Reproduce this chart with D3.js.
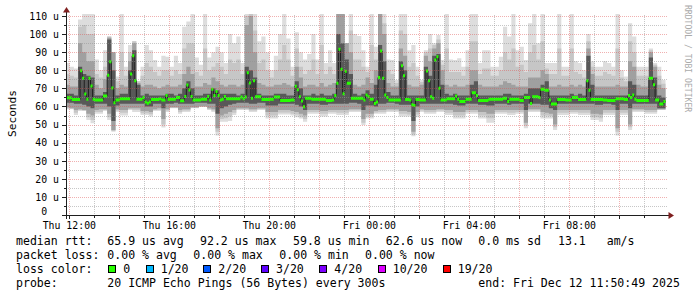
<!DOCTYPE html>
<html><head><meta charset="utf-8">
<script src="https://cdn.jsdelivr.net/npm/d3@7"></script>
<style>
html,body{margin:0;padding:0;background:#fff;}
svg{display:block;}
text{font-family:"DejaVu Sans Mono",monospace;fill:#000;}
</style></head><body>
<svg id="c" width="697" height="297"></svg>
<script>
// ---------- data (microseconds) ----------
// median rtt per 5-minute step (288 steps, Thu 11:50:49 -> Fri 11:50:49)
const medianRtt = [64.8,64.8,64.8,63.9,63.9,63.9,63.9,79.7,75.6,66.9,
64.0,75.6,71.3,64.0,63.6,63.6,63.6,63.6,65.8,65.8,
77.2,84.7,70.2,62.0,63.6,63.6,64.2,64.2,64.2,64.2,
64.2,78.0,88.0,74.2,64.0,64.0,64.0,65.0,62.5,61.8,
62.5,63.8,63.8,63.8,63.8,64.2,63.6,63.6,66.0,64.0,
64.0,64.0,64.0,65.0,65.0,63.2,63.2,65.5,71.9,69.1,
65.5,63.6,63.6,63.6,63.6,64.0,64.0,64.0,65.5,63.6,
69.5,66.0,68.2,66.0,63.6,64.0,65.5,64.3,64.3,64.3,
64.3,64.3,64.3,64.3,65.2,64.3,65.2,78.7,73.0,64.5,
74.2,65.4,65.4,65.4,63.8,63.8,63.8,63.8,64.0,64.0,
65.2,65.2,65.2,63.3,63.3,63.3,63.3,63.3,63.6,63.6,
71.1,69.3,65.4,63.0,59.8,64.5,64.5,64.5,64.0,64.0,
64.0,64.0,64.0,64.0,64.0,63.3,63.3,63.3,63.6,66.0,
72.8,91.6,80.5,67.0,79.4,72.8,72.8,64.5,64.5,64.5,
64.5,64.5,64.5,63.6,66.3,65.4,64.0,64.0,61.7,62.5,
76.0,90.6,75.6,66.3,65.0,63.6,63.6,63.6,63.6,63.6,
63.6,82.5,77.0,63.8,63.8,63.6,61.0,60.5,63.8,63.8,
63.6,63.6,63.6,79.6,74.2,65.4,64.5,85.7,87.5,70.0,
63.6,63.6,63.6,64.3,64.3,64.3,64.3,65.8,64.0,62.7,
62.7,62.7,64.0,64.0,64.0,67.6,67.6,66.0,63.3,63.3,
63.3,63.3,63.3,64.0,64.0,64.0,64.0,64.0,64.0,64.0,
64.5,64.5,62.7,64.0,64.0,64.0,64.0,64.0,63.3,63.3,
65.0,65.0,65.0,61.7,65.4,65.4,65.4,65.0,69.5,69.5,
69.0,69.0,63.6,61.4,61.4,61.4,63.8,63.8,63.8,63.8,
63.6,63.6,63.6,65.0,65.0,65.0,63.8,63.8,63.8,63.8,
74.2,69.0,63.8,63.8,63.8,63.8,63.8,63.8,63.6,63.6,
63.3,63.3,63.3,63.3,64.3,64.3,64.3,64.3,63.8,63.8,
66.0,65.0,66.3,64.0,63.3,63.3,63.3,63.3,63.3,63.3,
75.6,75.6,72.0,63.6,63.6,61.4,61.4,62.7];

// smoke per 10-minute column (144 columns), from outermost to innermost pings
const pingMax = [84,82,81,108,112,112,112,86,80,91,
98.6,90,76.5,112,82,94,96,74,82,94,
91,85.7,82,88,87.5,82,88,84,104,107,
112,87,83,112,87,90,93,90,84,100,
95,98.6,84,112,112,112,96,98.6,90,80,
88,100,112,97.6,82,101,90,86,89,100,
86,112,84,91,84,112,112,95,112,100,
99,91,82,112,93,112,112,86,85.7,74.6,
112,112,91,94,82,74.6,91,100,95,99.5,
85.7,112,86,85.7,86.6,82,91,112,112,84,
91,91,82,82,87.5,104,98.6,112,91,93,
85.7,106,112,95,112,84,84,84,112,82,
82,112,85,84,80,100,85,82,82,85,
84,82,112,80,76.5,106,98.6,82,82,82,
92,84,82,74.6];
const pingMin = [58.5,58.5,55.3,57.5,57.5,52.5,50.7,56,56,57.5,
52.5,46,57,55,55,58,57,57,55.3,55.3,
54.5,57.5,57.5,48.3,57,59,59,56,57,57,
59,59,60,60,58,57,44,51.6,51.6,52,
55.3,58,58,58,57,57,58,58,53.4,53.4,
53.4,55.5,55.5,55.5,55,54,53.4,51.6,56,56,
56,54.5,54.5,56,56,55.3,55.3,55.3,57,57,
57,49.7,53.4,53.4,56,56,56,57,57,57,
54.5,54.5,54.5,43.5,54,57,56,56,56,57,
57,55.3,55.3,53.4,53.4,53.4,56,56,56,53.4,
53.4,51,51,56,56,56,55.3,55.3,56,56,
47.9,57,57,57,53.4,53.4,53.4,47,55.3,55.3,
55.3,56,56,55.3,55.3,55.3,52.5,52.5,51.6,55.3,
55.3,55.3,44,55.3,55.3,47,57,57,57,56,
56,56,58,58];
const outerHi = [78,77,76,104,105,100,100,78,76,82,
98.6,90,74,90,77,90,96,74,77,84,
82,79,77,80,80,77,80,78,92,95,
95,79,77,92,80,82,84,82,78,86,
84,86,78,110,112,102,84,86,80,76,
80,86,94,86,77,92,82,78,80,86,
78,94,78,82,78,112,112,95,102,86,
86,82,79,94,86,112,106,80,78,73,
102,100,82,84,77,73.5,90,92,94,97,
83,92,79,79,79,77,82,96,96,78,
81,81,77,77,80,90,86,92,82,83,
79,90,94,86,96,81,78,78,92,77,
77,92,79,78,76,96,82,77,77,79,
78,77,92,76,74,96,90,77,77,77,
91,83,77,72.5];
const outerLo = [59,58.7,56.5,58,57.7,54,52.5,57,57,58,
54,46.5,57.7,56.5,56.5,58.5,58,58,56.3,56.3,
55.7,58,58,50,57.7,59.2,59.2,57,57.7,57.7,
59.2,59.2,60,60,58.5,57.7,46,53,53.5,54.5,
56.5,58.5,58.5,58.5,57.7,57.7,58.5,58.5,55,55,
55,56.7,56.7,56.7,56,55.5,54.5,53,57,57,
57,56,56,57,57,56.5,56.5,56.5,57.7,57.7,
57.7,51,54.5,54.5,56.7,57,57,57.7,57.7,57.7,
56,56,55.5,44.5,55.5,57.7,57,57,57,57.7,
57.7,56.5,56.5,55,55,55,57,57,57,55,
55,53.5,53.5,57,57,57,56.5,56.5,57,57,
49.5,57.7,57.7,57.7,55,55,54.7,48.5,56.5,56.5,
56.5,57,57,56.5,56.5,56.5,54,54,53.5,56.5,
56.5,56.5,46,56.5,56.5,48.5,57.7,57.7,57.7,57,
57,57,58.2,58.2];
const midHi = [72,71,71,95,90,85,85,72,70,75,
98,90,70,72,71,85,95,73,71,72,
72,71,70,71,72,71,71,72,78,82,
78,71,71,73,72,76,74,72,71,72,
72,71,72,105,110,90,73,72,71,71,
72,72,73,72,71,82,76,71,72,72,
71,73,71,72,73,112,112,95,90,72,
71,72,76,73,80,112,100,73,71,71,
92,88,72,71,71,72,88,85,92,95,
80,72,71,72,71,71,72,80,80,72,
71,71,71,71,72,74,73,72,71,71,
71,76,76,76,80,78,71,71,72,71,
71,72,71,72,71,92,78,71,71,71,
71,71,72,71,71,85,82,72,71,71,
90,82,72,70];
const midLo = [59.5,59,58,58.5,58,56,55,58,58.5,58.5,
56,47,58.5,58,58,59,59,59,57.5,57.5,
57,58.5,59,53,58.5,59.5,59.5,58,58.5,58.5,
59.5,59.5,60,60,59,58.5,48,55,56,57,
58,59,59,59,58.5,58.5,59,59,57,57,
57,58,58,58,57.5,57,56,55,58,58,
58,57.5,57.5,58,58,58,58,58,58.5,58.5,
58.5,53,56,56,57.5,58,58,58.5,58.5,58.5,
57.5,57.5,57,46,57,58.5,58,58,58,58.5,
58.5,58,58,57,57,57,58,58,58,57,
57,56,56,58,58,58,58,58,58,58,
51,58.5,58.5,58.5,57,56.5,56,50,58,58,
58,58,58,58,58,58,56,56,55.5,58,
58,58,48,58,58,50,58.5,58.5,58.5,58,
58,58,58.5,58.5];
const coreHi = [67,67,66,82,78,77,76,66,66,68,
97,80,66,67,67,80,91,72,66,67,
66,66,66,66,67,67,66,67,70,74,
70,66,66,67,67,70,69,67,67,67,
67,66,67,82,80,76,67,66,66,66,
67,67,67,66,66,74,70,66,66,67,
66,67,66,66,67,100,95,86,78,67,
66,67,69,67,72,94,85,68,66,66,
85,80,66,66,66,66,82,77,88,89,
72,67,66,67,66,66,66,72,74,66,
66,66,66,66,66,67,67,66,66,66,
67,70,70,70,72,74,66,66,66,66,
66,67,66,67,66,88,72,66,66,66,
66,66,66,66,66,74,72,66,66,66,
87,76,66,65];
const coreLo = [62,62,61.5,61.5,61,60,59,61.5,61.5,61.5,
60,52,60.5,61.5,61.5,61.5,61.5,61.5,61.5,60,
60,61.5,61.5,59,61.5,61.5,62,61.5,61.5,61.5,
61.5,62,62,62,61.5,61.5,56,59,60,61,
61.5,62,62,62,61.5,61.5,62,62,60.5,60.5,
60.5,61.5,61.5,61.5,61.5,61,60,58,61.5,61.5,
61.5,61,61,61.5,61.5,61.5,61.5,61.5,62,62,
61.5,58,60.5,60.5,60,61.5,61.5,62,62,61.5,
61,61,61,52,60,61.5,61.5,61.5,61.5,61.5,
61.5,61.5,61.5,61,60.5,60.5,61.5,61.5,61.5,61,
61,60.5,60.5,61.5,61.5,61.5,61,61.5,61.5,61.5,
58,61.5,61.5,61.5,61,61,59,58,61.5,61.5,
61.5,61.5,61.5,61.5,61.5,61.5,61.5,61,61,61.5,
61.5,61,58,61.5,61.5,59,61.5,61.5,61.5,61.5,
61.5,61.5,59,59];

const yTickValues = [0,10,20,30,40,50,60,70,80,90,100,110];
const yAxisTitle = "Seconds";
const medianStats = ["median rtt:","65.9 us avg","92.2 us max","59.8 us min","62.6 us now","0.0 ms sd","13.1","am/s"];
const lossStats = ["packet loss:","0.00 % avg","0.00 % max","0.00 % min","0.00 % now"];
const lossLabels = ["0","1/20","2/20","3/20","4/20","10/20","19/20"];
const lossColors = ["#26ff00","#00b8ff","#0059ff","#5e00ff","#7e00ff","#dd00ff","#ff0000"];
const probeText = ["probe:","20 ICMP Echo Pings (56 Bytes) every 300s","end: Fri Dec 12 11:50:49 2025"];
const watermark = "RRDTOOL / TOBI OETIKER";

// ---------- scales ----------
const svg = d3.select("#c");
const start = new Date(2025,11,11,11,50,49), end = new Date(2025,11,12,11,50,49);
const x = d3.scaleTime().domain([start,end]).range([65.5,665.5]);
const y = d3.scaleLinear().domain([0,110]).range([215,16]);
const L = 66, R = 667, T = 14, B = 215;

svg.append("rect").attr("width",697).attr("height",297).attr("fill","#fff");

const defs = svg.append("defs");
defs.append("clipPath").attr("id","plot").append("rect")
  .attr("x",L).attr("y",T).attr("width",R-L).attr("height",B-T);

const colT = i => new Date(start.getTime() + i*600000);
const stepT = j => new Date(start.getTime() + j*300000);

const cols = d3.range(145).map(i => {
  const k = Math.min(i,143);
  return {t: colT(i), max: pingMax[k], min: pingMin[k], oh: outerHi[k], ol: outerLo[k],
          mh: midHi[k], ml: midLo[k], ch: coreHi[k], cl: coreLo[k]};
});
const steps = d3.range(289).map(j => ({t: stepT(j), v: medianRtt[Math.min(j,287)]}));

const g = svg.append("g").attr("clip-path","url(#plot)");
const band = (lo,hi) => d3.area().x(d=>x(d.t)).y0(d=>y(d[lo])).y1(d=>y(d[hi])).curve(d3.curveStepAfter);
g.append("path").datum(cols).attr("d",band("min","max")).attr("fill","#dddddd");
g.append("path").datum(cols).attr("d",band("ol","oh")).attr("fill","#c6c6c6");
g.append("path").datum(cols).attr("d",band("ml","mh")).attr("fill","#a0a0a0");
g.append("path").datum(cols).attr("d",band("cl","ch")).attr("fill","#585858");

// ---------- grid ----------
const grid = svg.append("g").attr("shape-rendering","crispEdges");
d3.range(5,111,5).forEach(v => {
  const yy = Math.round(y(v)) + 0.5;
  grid.append("line").attr("x1",L).attr("x2",R).attr("y1",yy).attr("y2",yy)
    .attr("stroke", v%10===0 ? "rgba(222,79,79,0.45)" : "rgba(143,143,143,0.5)")
    .attr("stroke-dasharray","1,1");
});
d3.timeHour.range(start,end).forEach(t => {
  const xx = Math.round(x(t)) + 0.5;
  grid.append("line").attr("x1",xx).attr("x2",xx).attr("y1",T+1).attr("y2",B)
    .attr("stroke", t.getHours()%2===0 ? "rgba(222,79,79,0.45)" : "rgba(143,143,143,0.5)")
    .attr("stroke-dasharray","1,1");
});

// ---------- median ----------
g.append("path").datum(steps)
  .attr("d", d3.line().x(d=>x(d.t)).y(d=>y(d.v)).curve(d3.curveStepAfter))
  .attr("fill","none").attr("stroke","#202020").attr("stroke-width",1);
g.append("path").datum(steps)
  .attr("d", d3.area().x(d=>x(d.t)).y0(d=>y(d.v)+1.5).y1(d=>y(d.v)-1.5).curve(d3.curveStepAfter))
  .attr("fill",lossColors[0]);

// ---------- axes ----------
const ax = svg.append("g").attr("shape-rendering","crispEdges");
ax.append("line").attr("x1",62).attr("x2",669).attr("y1",215.5).attr("y2",215.5).attr("stroke","#1f1f1f");
ax.append("line").attr("x1",66.5).attr("x2",66.5).attr("y1",219).attr("y2",12).attr("stroke","#1f1f1f");
yTickValues.forEach(v => {
  const yy = Math.round(y(v)) + 0.5;
  ax.append("line").attr("x1",62).attr("x2",66).attr("y1",yy).attr("y2",yy).attr("stroke","#1f1f1f");
});
d3.range(5,111,10).forEach(v => {
  const yy = Math.round(y(v)) + 0.5;
  ax.append("line").attr("x1",64).attr("x2",66).attr("y1",yy).attr("y2",yy).attr("stroke","#1f1f1f");
});
d3.timeHour.range(start,end).forEach(t => {
  const xx = Math.round(x(t)) + 0.5;
  ax.append("line").attr("x1",xx).attr("x2",xx).attr("y1",216).attr("y2", t.getHours()%2===0 ? 219 : 218).attr("stroke","#1f1f1f");
});
svg.append("path").attr("d","M668.5,212 L674,215.5 L668.5,219 Z").attr("fill","#7f1f1f");
svg.append("path").attr("d","M63,12.5 L66.5,7 L70,12.5 Z").attr("fill","#7f1f1f");

// tick labels
const fmtTick = d3.timeFormat("%a %H:%M");
d3.timeHour.every(4).range(start,end).forEach(t => {
  svg.append("text").attr("x",x(t)).attr("y",228.5).attr("text-anchor","middle")
    .attr("font-size","9.85px").text(fmtTick(t));
});
yTickValues.forEach(v => {
  svg.append("text").attr("x",59).attr("y", v===0 ? y(v)-0.5 : y(v)+3.8).attr("text-anchor","end")
    .attr("font-size","9.85px").attr("xml:space","preserve").style("white-space","pre")
    .text(v===0 ? "0  " : v + " u");
});
svg.append("text").attr("transform","translate(15.5,113.5) rotate(-90)")
  .attr("text-anchor","middle").attr("font-size","11.2px").text(yAxisTitle);
svg.append("text").attr("transform","translate(688,5) rotate(90)")
  .attr("dy","0.35em").attr("font-size","8.1px").style("fill","#aaaaaa").text(watermark);

// ---------- legend ----------
const LF = "11.55px";
const leg = (xx,yy,s) => svg.append("text").attr("x",xx).attr("y",yy).attr("font-size",LF)
  .attr("xml:space","preserve").style("white-space","pre").text(s);
[16,107.3,200,293,385.7,478.3,558,606.7].forEach((xx,i) => leg(xx,245,medianStats[i]));
[16,107.3,193.3,279.3,365].forEach((xx,i) => leg(xx,259,lossStats[i]));
leg(16,273,"loss color:");
[108.3,145.7,203.3,261,319.3,377.7,442.7].forEach((xx,i) => {
  svg.append("rect").attr("x",Math.round(xx)+0.5).attr("y",265.5).attr("width",7).attr("height",7)
    .attr("fill",lossColors[i]).attr("stroke","#000").attr("stroke-width",1).attr("shape-rendering","crispEdges");
  leg(xx+15,273,lossLabels[i]);
});
[16,107.3,478.3].forEach((xx,i) => leg(xx,287,probeText[i]));
</script>
</body></html>
